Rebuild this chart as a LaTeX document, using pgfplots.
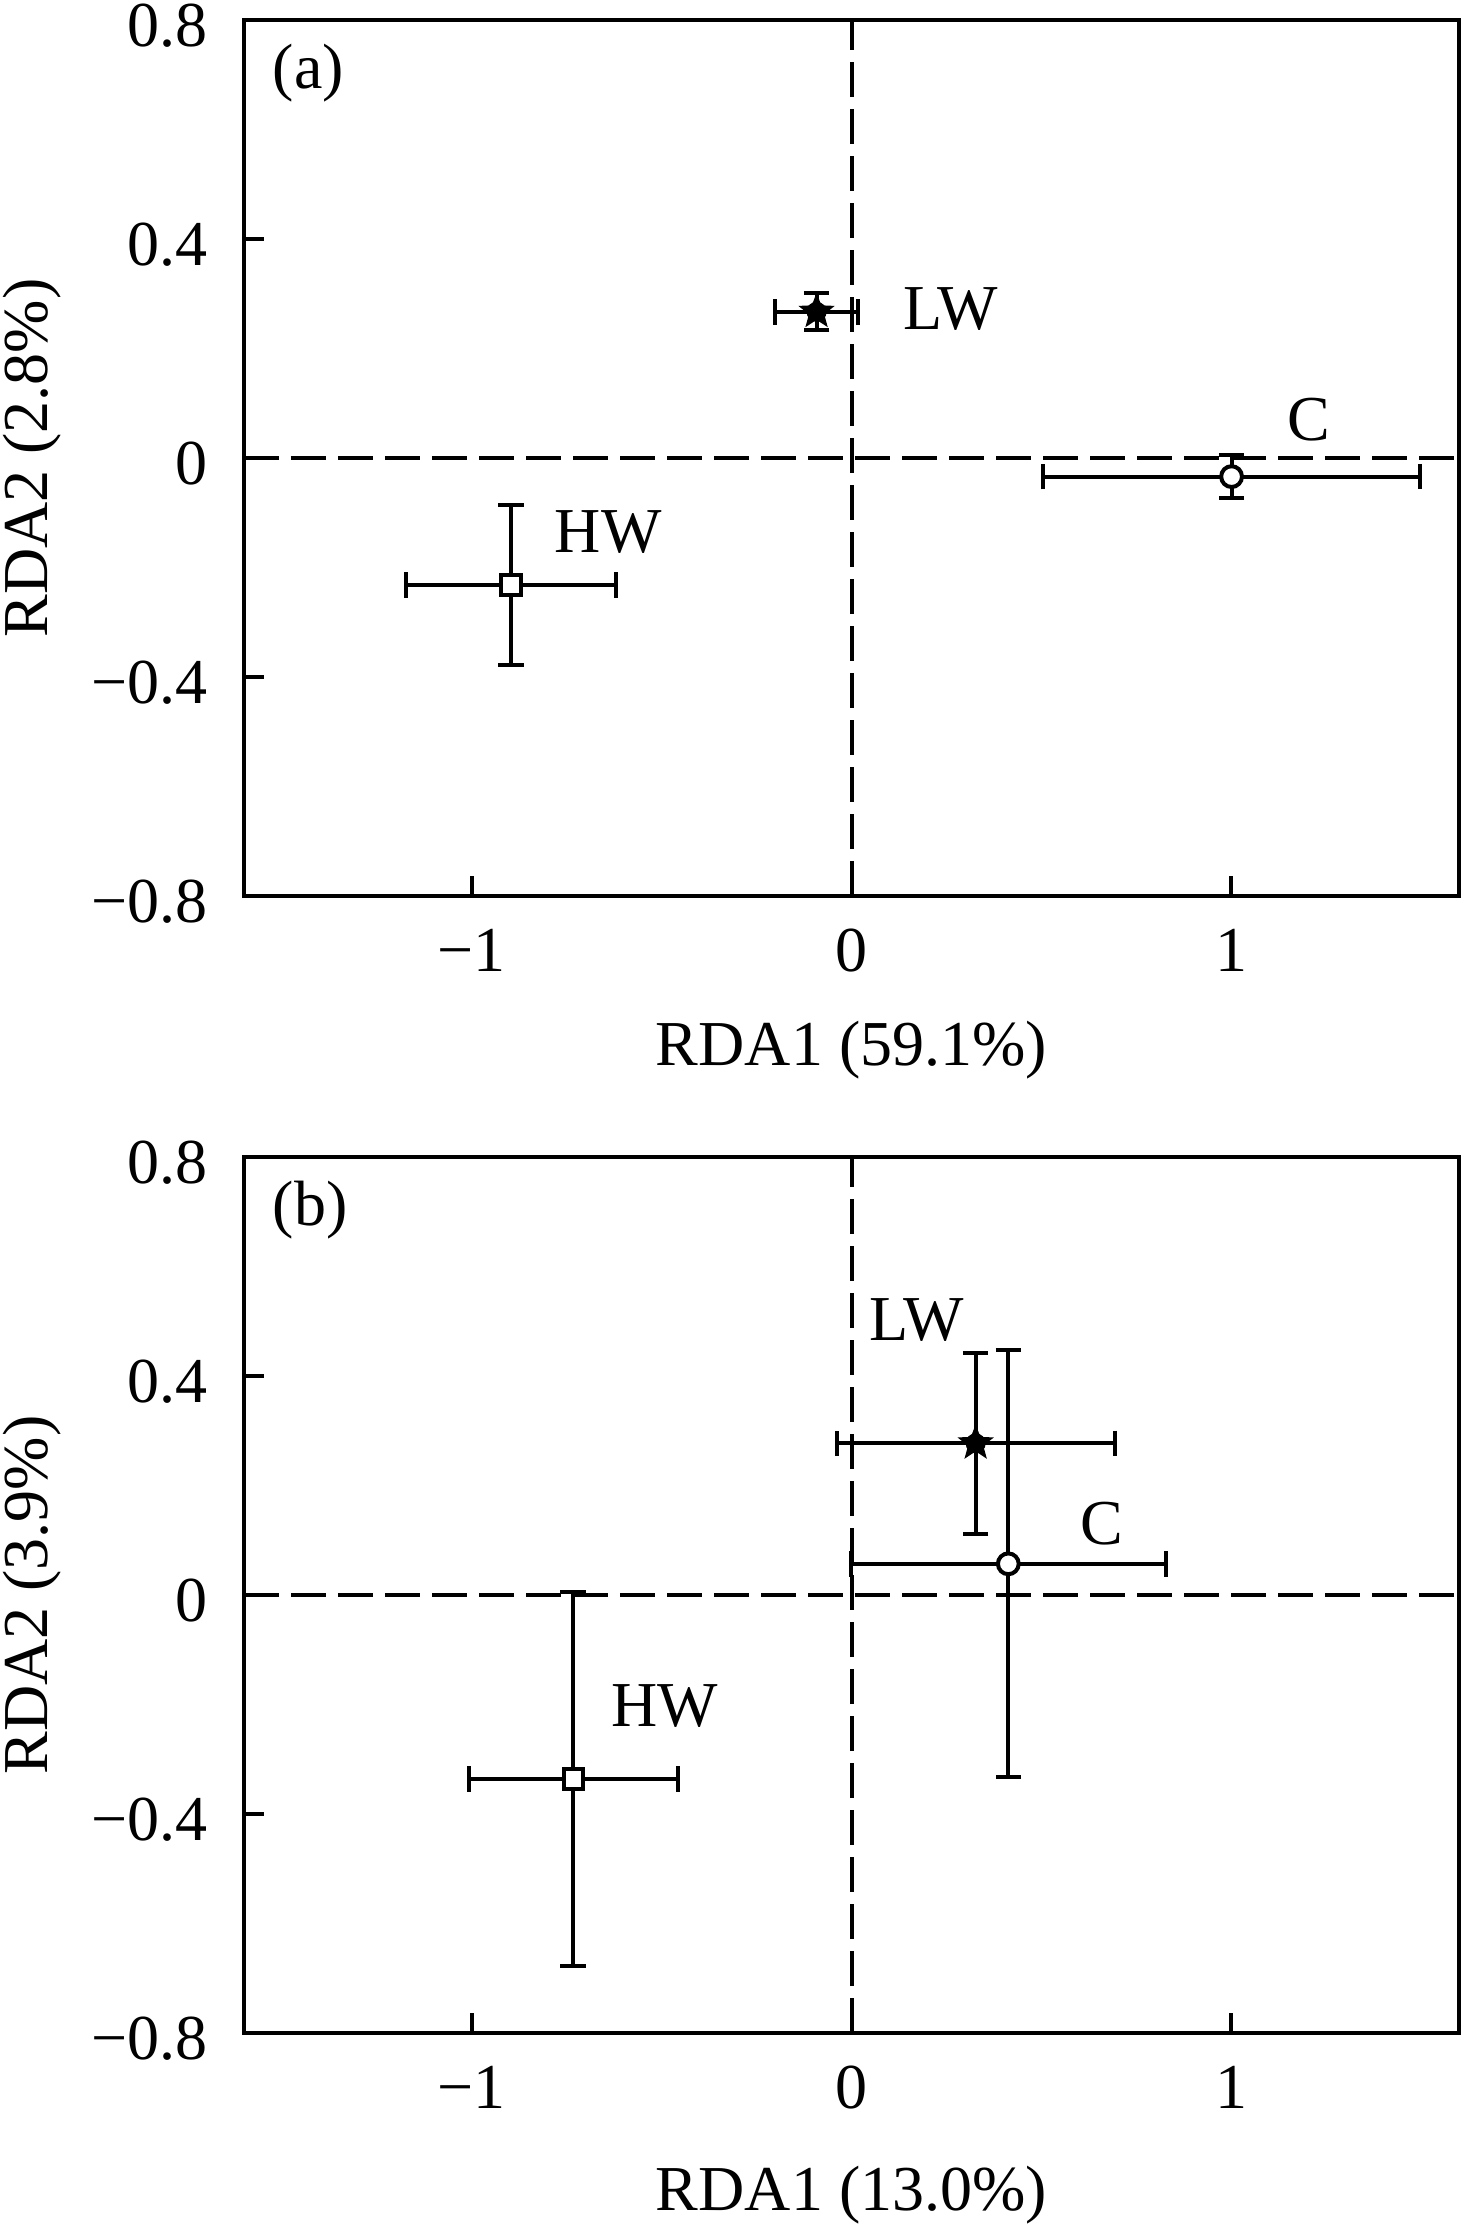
\documentclass[border=0pt]{standalone}
\usepackage{fontspec}
\setmainfont{Liberation Serif}
\usepackage{pgfplots}
\pgfplotsset{compat=1.18}

\pgfdeclareplotmark{fstar}{%
  \pgfpathmoveto{\pgfpointpolar{90}{\pgfplotmarksize}}%
  \pgfpathlineto{\pgfpointpolar{126}{0.42\pgfplotmarksize}}%
  \pgfpathlineto{\pgfpointpolar{162}{\pgfplotmarksize}}%
  \pgfpathlineto{\pgfpointpolar{198}{0.42\pgfplotmarksize}}%
  \pgfpathlineto{\pgfpointpolar{234}{\pgfplotmarksize}}%
  \pgfpathlineto{\pgfpointpolar{270}{0.42\pgfplotmarksize}}%
  \pgfpathlineto{\pgfpointpolar{306}{\pgfplotmarksize}}%
  \pgfpathlineto{\pgfpointpolar{342}{0.42\pgfplotmarksize}}%
  \pgfpathlineto{\pgfpointpolar{18}{\pgfplotmarksize}}%
  \pgfpathlineto{\pgfpointpolar{54}{0.42\pgfplotmarksize}}%
  \pgfpathclose
  \pgfusepathqfillstroke
}

\pgfplotsset{
  rdastyle/.style={
    width=303.75pt, height=219pt, scale only axis,
    xmin=-1.6, xmax=1.6, ymin=-0.8, ymax=0.8,
    xtick={-1,0,1}, xticklabels={−1,0,1},
    ytick={-0.8,-0.4,0,0.4,0.8}, yticklabels={−0.8,−0.4,0,0.4,0.8},
    tick align=inside, major tick length=5pt,
    xtick pos=bottom, ytick pos=left,
    axis line style={line width=1pt},
    tick style={line width=1pt, black},
    font=\fontsize{16}{19}\selectfont,
    xticklabel style={inner sep=0pt, anchor=north, yshift=-8pt},
    yticklabel style={inner sep=0pt, anchor=east, xshift=-9pt, yshift=-1.5pt},
    ylabel style={at={([xshift=-53pt]axis description cs:0,0.5)}, rotate=0, anchor=center},
    clip=false,
  },
  errs/.style={
    black, line width=1pt, only marks, mark=none, forget plot,
    /pgfplots/error bars/x dir=both,
    /pgfplots/error bars/x explicit,
    /pgfplots/error bars/y dir=both,
    /pgfplots/error bars/y explicit,
    /pgfplots/error bars/error bar style={line width=1pt},
    /pgfplots/error bars/error mark options={rotate=90, mark size=3.2pt, line width=1pt},
  },
  pts/.style={black, only marks},
  zline/.style={black, line width=1pt, dash pattern=on 8.75pt off 3pt, forget plot},
}

\begin{document}
\begin{tikzpicture}
% ---------- panel (a) ----------
\begin{axis}[rdastyle, at={(0,0)}, anchor=north west,
  xlabel={RDA1 (59.1\%)}, ylabel={RDA2 (2.8\%)},
  xlabel style={at={([yshift=-42.5pt]axis description cs:0.5,0)}, anchor=base},
]
\addplot[zline] coordinates {(-1.6,0) (1.6,0)};
\addplot[zline] coordinates {(0,-0.8) (0,0.8)};
% error bars (LW, C, HW)
\addplot[errs] coordinates {(-0.092,0.267) +- (0.109,0.034)};
\addplot[errs] coordinates {(1.001,-0.034) +- (0.496,0.039)};
\addplot[errs] coordinates {(-0.897,-0.232) +- (0.276,0.146)};
% markers
\addplot[pts, mark=fstar, mark size=4.2pt, mark options={fill=black, line width=0.4pt}]
  coordinates {(-0.092,0.267)};
\addplot[pts, mark=*, mark size=2.6pt, mark options={fill=white, draw=black, line width=1pt}]
  coordinates {(1.001,-0.034)};
\addplot[pts, mark=square*, mark size=2.4pt, mark options={fill=white, draw=black, line width=1pt}]
  coordinates {(-0.897,-0.232)};
\node at (axis cs:0.262,0.272) {LW};
\node at (axis cs:1.205,0.070) {C};
\node at (axis cs:-0.641,-0.136) {HW};
\node[anchor=north west, inner sep=0pt] at ([xshift=7pt,yshift=-5.75pt]axis description cs:0,1) {(a)};
\end{axis}
% ---------- panel (b) ----------
\begin{axis}[rdastyle, at={(0,-284.25pt)}, anchor=north west,
  xlabel={RDA1 (13.0\%)}, ylabel={RDA2 (3.9\%)},
  xlabel style={at={([yshift=-44.25pt]axis description cs:0.5,0)}, anchor=base},
]
\addplot[zline] coordinates {(-1.6,0) (1.6,0)};
\addplot[zline] coordinates {(0,-0.8) (0,0.8)};
% error bars (LW, C, HW)
\addplot[errs] coordinates {(0.327,0.277) +- (0.366,0.165)};
\addplot[errs] coordinates {(0.413,0.057) +- (0.414,0.390)};
\addplot[errs] coordinates {(-0.733,-0.336) +- (0.275,0.342)};
% markers
\addplot[pts, mark=fstar, mark size=4.2pt, mark options={fill=black, line width=0.4pt}]
  coordinates {(0.327,0.277)};
\addplot[pts, mark=*, mark size=2.6pt, mark options={fill=white, draw=black, line width=1pt}]
  coordinates {(0.413,0.057)};
\addplot[pts, mark=square*, mark size=2.4pt, mark options={fill=white, draw=black, line width=1pt}]
  coordinates {(-0.733,-0.336)};
\node at (axis cs:0.172,0.502) {LW};
\node at (axis cs:0.660,0.130) {C};
\node at (axis cs:-0.492,-0.203) {HW};
\node[anchor=north west, inner sep=0pt] at ([xshift=7pt,yshift=-5.75pt]axis description cs:0,1) {(b)};
\end{axis}
\pgfresetboundingbox
\path[use as bounding box] (-61pt,5pt) rectangle (305.25pt,-551.25pt);
\end{tikzpicture}
\end{document}
